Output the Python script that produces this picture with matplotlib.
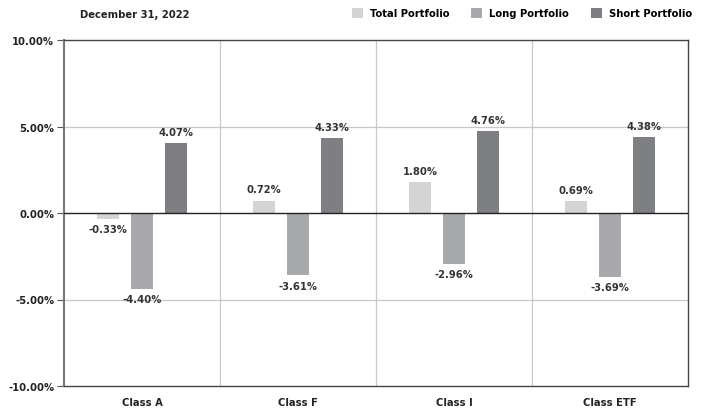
import matplotlib.pyplot as plt
import numpy as np

plt.rcParams['font.family'] = ['DejaVu Sans']
plt.rcParams['font.stretch'] = 'condensed'
plt.rcParams['font.weight'] = 'bold'

categories = ['Class A', 'Class F', 'Class I', 'Class ETF']
series_names = ['Total Portfolio', 'Long Portfolio', 'Short Portfolio']
total = [-0.33, 0.72, 1.80, 0.69]
long_ = [-4.40, -3.61, -2.96, -3.69]
short = [4.07, 4.33, 4.76, 4.38]
yticks = [-10, -5, 0, 5, 10]
colors = ['#d4d4d5', '#a8a9ac', '#7e7f83']

fig = plt.figure(figsize=(7.05, 4.14), dpi=100)
ax = fig.add_axes([64 / 705, 1 - 387 / 414, 624 / 705, 346 / 414])

fs = 8
x = np.arange(len(categories))
width = 0.135
offset = 0.218
for i, (vals, c, name) in enumerate(zip([total, long_, short], colors, series_names)):
    xs = x + (i - 1) * offset
    ax.bar(xs, vals, width=width, color=c, label=name, zorder=3)
    for xi, v in zip(xs, vals):
        if v >= 0:
            ax.text(xi, v + 0.35, f'{v:.2f}%', ha='center', va='bottom',
                    fontsize=fs, fontweight='bold', color='#333333')
        else:
            ax.text(xi, v - 0.3, f'{v:.2f}%', ha='center', va='top',
                    fontsize=fs, fontweight='bold', color='#333333')

ax.set_xlim(-0.5, len(categories) - 0.5)
ax.set_ylim(-10, 10)
ax.set_yticks(yticks)
ax.set_yticklabels([f'{t:.2f}%' for t in yticks], fontsize=fs, fontweight='bold', color='#222222')
ax.set_xticks(x)
ax.set_xticklabels(categories, fontsize=fs, fontweight='bold', color='#222222')
ax.tick_params(axis='x', length=0, pad=8)
ax.tick_params(axis='y', length=5, color='#555555', width=0.8, pad=2)

for t in [-5, 5]:
    ax.axhline(t, color='#c8c8c8', lw=0.9, zorder=1)
for d in x[:-1] + 0.5:
    ax.axvline(d, color='#c8c8c8', lw=0.9, zorder=1)
ax.axhline(0, color='#222222', lw=1.0, zorder=4)

for s in ax.spines.values():
    s.set_color('#444444')
    s.set_linewidth(1.0)
ax.spines['left'].set_color('#777777')
ax.spines['left'].set_linewidth(1.5)

fig.text(80 / 705, 1 - 15 / 414, 'December 31, 2022', fontsize=fs, fontweight='bold',
         color='#222222', va='center', ha='left')
fig.legend(loc='center right', bbox_to_anchor=(692 / 705, 1 - 14 / 414), ncol=3,
           frameon=False, prop={'weight': 'bold', 'size': fs, 'stretch': 'condensed'},
           handlelength=1.0, handleheight=1.0, handletextpad=0.6, columnspacing=2.0,
           borderpad=0, borderaxespad=0)

fig.savefig('out.png', dpi=100)
